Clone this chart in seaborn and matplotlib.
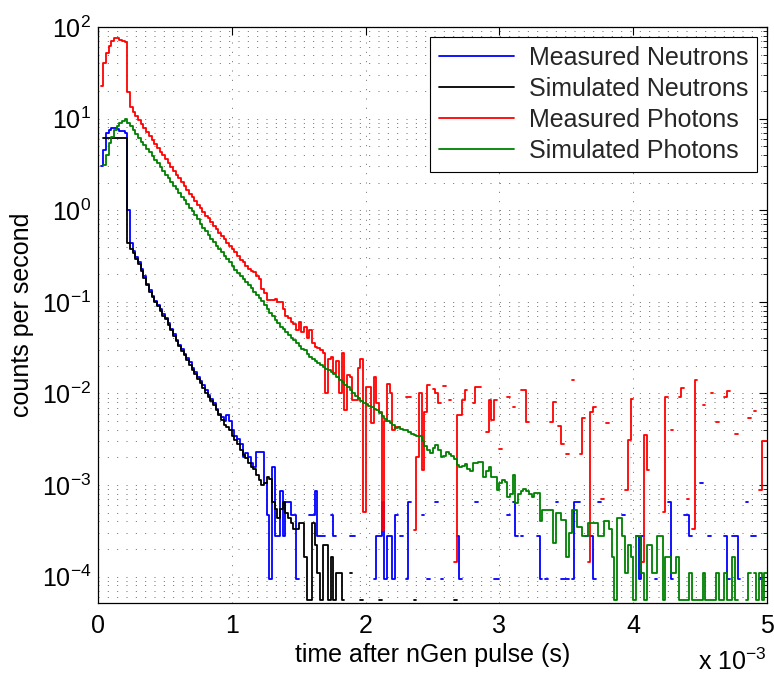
import numpy as np
import pandas as pd
import matplotlib
matplotlib.use("Agg")
import matplotlib.pyplot as plt
from matplotlib.ticker import FixedLocator, LogLocator, NullFormatter
import seaborn as sns

# ---------------- data (counts per second per 20 us time bin; 0 = empty bin) -------------
BIN_WIDTH = 20e-6  # seconds

series_names = ["Measured Neutrons", "Simulated Neutrons", "Measured Photons", "Simulated Photons"]
series_colors = ["#0000ff", "#000000", "#ff0000", "#008000"]

measured_neutrons = [
    0, 3.0, 4.5, 6.9, 7.5, 7.9, 7.8, 7.7, 7.4, 7.3,
    6.9, 1.0, 0.44, 0.355, 0.309, 0.269, 0.229, 0.191, 0.158, 0.135,
    0.117, 0.102, 0.0912, 0.0832, 0.0741, 0.0661, 0.0589, 0.0501, 0.0447, 0.0380,
    0.0339, 0.0302, 0.0269, 0.0245, 0.0219, 0.0191, 0.0170, 0.0151, 0.0135, 0.0123,
    0.0110, 0.00955, 0.00871, 0.00776, 0.00676, 0.00603, 0.00550, 0.00501, 0.00575, 0.00501,
    0.00398, 0.00347, 0.00316, 0.00282, 0.00204, 0.00224, 0.00200, 0.00174, 0.00158, 0.00229,
    0.00229, 0.00229, 0.00105, 0.00047, 0.000094, 0.00158, 0.00028, 0.00028, 0.00085, 0.00028,
    0.00066, 0.00066, 0.00047, 0.00047, 0.000094, 0, 0, 0, 0, 0.00047,
    0.00047, 0.00085, 0.00028, 0.00028, 0.00028, 0, 0, 0.00047, 0.00028, 0,
    0, 0, 0, 0, 0.00028, 0.00028, 0, 0, 0, 0,
    0, 0, 0, 0.000094, 0.00028, 0.00028, 0.00066, 0.000094, 0.00028, 0.00028,
    0.000094, 0.00047, 0, 0.00028, 0, 0.000094, 0.00066, 0, 0, 0,
    0, 0.00047, 0, 0.000094, 0, 0, 0.00066, 0, 0.000094, 0,
    0, 0, 0, 0, 0.00028, 0.000094, 0, 0, 0, 0,
    0, 0.00066, 0, 0, 0, 0, 0, 0, 0.000094, 0.000094,
    0, 0, 0, 0.00047, 0, 0.00066, 0.00028, 0, 0.00028, 0,
    0, 0, 0, 0, 0.00028, 0.000094, 0, 0.000094, 0, 0,
    0, 0.00066, 0, 0.000094, 0.000094, 0.000094, 0, 0.000094, 0.00066, 0.00066,
    0, 0, 0.00028, 0, 0.00028, 0.000094, 0, 0.00066, 0, 0,
    0, 0, 0, 0, 0, 0, 0.00047, 0, 0, 0,
    0, 0.00028, 0.000094, 0.00028, 0, 0, 0, 0, 0.000094, 0,
    0, 0, 0, 0.00066, 0.000094, 0, 0, 0, 0, 0.00047,
    0.00047, 0.00028, 0, 0, 0, 0.00105, 0, 0, 0.00028, 0,
    0, 0, 0, 0, 0.00028, 0.000094, 0, 0.00028, 0.00028, 0.000094,
    0, 0, 0.00066, 0, 0.00028, 0.00028, 0, 0.000094, 0, 0,
]

simulated_neutrons = [
    0, 0, 6.2, 6.2, 6.2, 6.2, 6.2, 6.2, 6.2, 6.2,
    6.2, 0.44, 0.380, 0.339, 0.295, 0.257, 0.219, 0.182, 0.151, 0.129,
    0.112, 0.100, 0.0891, 0.0794, 0.0708, 0.0646, 0.0562, 0.0490, 0.0427, 0.0372,
    0.0331, 0.0288, 0.0263, 0.0234, 0.0204, 0.0182, 0.0162, 0.0145, 0.0129, 0.0115,
    0.0102, 0.00912, 0.00832, 0.00741, 0.00661, 0.00575, 0.00513, 0.00457, 0.00427, 0.00398,
    0.00347, 0.00309, 0.00282, 0.00240, 0.00214, 0.00195, 0.00174, 0.00158, 0.00148, 0.00129,
    0.00112, 0.00100, 0.00105, 0.00123, 0.00117, 0.00066, 0.00055, 0.00044, 0.00055, 0.00066,
    0.000495, 0.00044, 0.000385, 0.00033, 0.00033, 0.000385, 0.000385, 0.000165, 0.000055, 0.000055,
    0.000385, 0.00022, 0.00011, 0.000055, 0.00022, 0.00022, 0.000055, 0.000165, 0.000055, 0.00011,
    0.00011, 0.000055, 0, 0, 0.00011, 0, 0, 0, 0.000055, 0,
    0, 0, 0, 0, 0, 0.000055, 0, 0, 0, 0,
    0, 0, 0, 0, 0, 0, 0, 0, 0.000055, 0,
    0, 0, 0, 0, 0, 0, 0, 0, 0, 0,
    0, 0, 0, 0.000055, 0, 0, 0, 0, 0, 0,
    0, 0, 0, 0, 0, 0, 0, 0, 0, 0,
    0, 0, 0, 0, 0, 0, 0, 0, 0, 0,
    0, 0, 0, 0, 0, 0, 0, 0, 0, 0,
    0, 0, 0, 0, 0, 0, 0, 0, 0, 0,
    0, 0, 0, 0, 0, 0, 0, 0, 0, 0,
    0, 0, 0, 0, 0, 0, 0, 0, 0, 0,
    0, 0, 0, 0, 0, 0, 0, 0, 0, 0,
    0, 0, 0, 0, 0, 0, 0, 0, 0, 0,
    0, 0, 0, 0, 0, 0, 0, 0, 0, 0,
    0, 0, 0, 0, 0, 0, 0, 0, 0, 0,
    0, 0, 0, 0, 0, 0, 0, 0, 0, 0,
]

measured_photons = [
    0, 22.9, 40, 52, 62, 71, 75, 76, 73, 71,
    68, 19.4, 13.3, 11.9, 10.7, 9.66, 8.71, 7.94, 7.16, 6.46,
    5.89, 5.31, 4.79, 4.37, 3.98, 3.59, 3.24, 2.95, 2.69, 2.45,
    2.24, 2.02, 1.82, 1.66, 1.51, 1.38, 1.26, 1.15, 1.05, 0.955,
    0.871, 0.813, 0.741, 0.676, 0.617, 0.569, 0.525, 0.479, 0.437, 0.407,
    0.380, 0.347, 0.316, 0.288, 0.269, 0.245, 0.229, 0.219, 0.209, 0.191,
    0.178, 0.138, 0.126, 0.105, 0.105, 0.105, 0.107, 0.100, 0.100, 0.0832,
    0.0708, 0.0661, 0.0603, 0.0575, 0.0490, 0.0603, 0.0468, 0.0537, 0.0398, 0.0490,
    0.0355, 0.0324, 0.0316, 0.0295, 0.0275, 0.0100, 0.0240, 0.0251, 0.0166, 0.0224,
    0.0100, 0.0275, 0.0066, 0.0158, 0.0151, 0.0085, 0.0085, 0.0191, 0.0240, 0.00051,
    0.0117, 0.0117, 0.0047, 0.0151, 0.0079, 0.0063, 0.00032, 0.0050, 0.0126, 0.0100,
    0.0040, 0.0043, 0.0043, 0, 0, 0.0091, 0.0091, 0, 0.00032, 0.0020,
    0.0100, 0.00145, 0.0063, 0.0123, 0, 0.0112, 0.0100, 0.0079, 0, 0.0120,
    0, 0.0085, 0, 0.000145, 0.0058, 0.0058, 0.0085, 0.0110, 0, 0,
    0.0079, 0.0117, 0.0117, 0, 0, 0.0038, 0.0085, 0.0051, 0.0085, 0,
    0.0025, 0, 0, 0.0091, 0, 0.0071, 0, 0, 0.0110, 0.0110,
    0.0049, 0, 0, 0, 0, 0, 0, 0, 0, 0.0049,
    0.0081, 0, 0.0044, 0.0028, 0, 0.0022, 0, 0.0141, 0, 0,
    0.0022, 0.0054, 0, 0.000145, 0.0062, 0.0071, 0, 0, 0.00071, 0,
    0.0047, 0, 0, 0, 0, 0, 0, 0.00089, 0.0031, 0.0087,
    0, 0, 0, 0.000145, 0.0035, 0.00145, 0, 0, 0, 0,
    0, 0.00051, 0.0091, 0, 0.0040, 0, 0, 0.0091, 0.0115, 0,
    0.00071, 0, 0.00033, 0.0141, 0, 0, 0.0074, 0, 0, 0.0100,
    0, 0.0049, 0, 0, 0.0091, 0.0105, 0, 0, 0.0036, 0,
    0, 0, 0, 0.0054, 0, 0.0065, 0, 0.00089, 0.0030, 0.0030,
]

simulated_photons = [
    0, 0, 3.1, 4.0, 5.4, 6.3, 7.5, 8.3, 9.0, 9.5,
    9.9, 9.02, 8.22, 7.50, 6.84, 6.17, 5.62, 5.13, 4.68, 4.27,
    3.89, 3.55, 3.24, 2.95, 2.69, 2.45, 2.24, 2.04, 1.86, 1.70,
    1.55, 1.41, 1.29, 1.17, 1.07, 0.977, 0.891, 0.794, 0.708, 0.646,
    0.589, 0.537, 0.490, 0.447, 0.407, 0.380, 0.347, 0.316, 0.295, 0.269,
    0.245, 0.224, 0.204, 0.191, 0.178, 0.166, 0.151, 0.141, 0.129, 0.120,
    0.110, 0.102, 0.0912, 0.0832, 0.0759, 0.0692, 0.0631, 0.0589, 0.0537, 0.0501,
    0.0468, 0.0437, 0.0407, 0.0380, 0.0355, 0.0331, 0.0309, 0.0295, 0.0269, 0.0251,
    0.0240, 0.0224, 0.0214, 0.0204, 0.0195, 0.0186, 0.0178, 0.0170, 0.0162, 0.0151,
    0.0141, 0.0132, 0.0123, 0.0117, 0.0110, 0.0102, 0.00933, 0.00891, 0.00832, 0.00776,
    0.00759, 0.00724, 0.00708, 0.00676, 0.00661, 0.00617, 0.00562, 0.00525, 0.00501, 0.00479,
    0.00447, 0.00417, 0.00427, 0.00407, 0.00398, 0.00398, 0.00380, 0.00363, 0.00355, 0.00347,
    0.00339, 0.00302, 0.00269, 0.00240, 0.00224, 0.00251, 0.00275, 0.00240, 0.00204, 0.00209,
    0.00229, 0.00219, 0.00209, 0.00191, 0.00166, 0.00158, 0.00162, 0.00170, 0.00151, 0.00141,
    0.00174, 0.00174, 0.00178, 0.00178, 0.00123, 0.00141, 0.00158, 0.00123, 0.00123, 0.00089,
    0.00105, 0.00112, 0.00107, 0.00074, 0.00079, 0.00129, 0.00063, 0.00079, 0.00087, 0.00091,
    0.00087, 0.00079, 0.00074, 0.00081, 0.00081, 0.00040, 0.00054, 0.00054, 0.00054, 0.00054,
    0.00023, 0.00049, 0.00049, 0.00042, 0.00042, 0.000165, 0.00030, 0.00054, 0.00054, 0.00035,
    0.00035, 0.000275, 0.000275, 0.00038, 0.00038, 0.00038, 0.00038, 0.000275, 0.000275, 0.00040,
    0.00040, 0.00033, 0.000165, 0.000055, 0.00044, 0.00044, 0.000275, 0.00011, 0.00022, 0.000165,
    0.000055, 0.000275, 0.000275, 0.00011, 0.000055, 0.00022, 0.00022, 0.00011, 0.00011, 0.000275,
    0.000275, 0.000055, 0.000165, 0.000165, 0.00011, 0.00011, 0.000165, 0.000055, 0.000055, 0.000055,
    0.000055, 0.00011, 0.000055, 0.000055, 0.000055, 0.000055, 0.00011, 0.000055, 0.000055, 0.000055,
    0.000055, 0.00011, 0.000055, 0.000055, 0.00011, 0.000055, 0.000055, 0.000165, 0.000055, 0,
    0, 0, 0.000055, 0.00011, 0, 0.00011, 0.000055, 0.00011, 0.000055, 0.00011,
]

xtick_values = [0, 1e-3, 2e-3, 3e-3, 4e-3, 5e-3]
xtick_labels = ["0", "1", "2", "3", "4", "5"]
ytick_values = [1e-4, 1e-3, 1e-2, 1e-1, 1e0, 1e1, 1e2]
ytick_labels = [r"$\mathregular{10^{-4}}$", r"$\mathregular{10^{-3}}$", r"$\mathregular{10^{-2}}$",
                r"$\mathregular{10^{-1}}$", r"$\mathregular{10^{0}}$", r"$\mathregular{10^{1}}$",
                r"$\mathregular{10^{2}}$"]

# ---------------- long-form table of stair runs (gaps where a bin is empty) -------------
def stair_rows(name, values):
    rows = []
    seg = 0
    run = []
    for i, v in enumerate(list(values) + [0]):
        if v > 0:
            run.append(i)
        elif run:
            for j in run:
                rows.append((name, f"{name}#{seg}", j * BIN_WIDTH, values[j]))
            last = run[-1]
            rows.append((name, f"{name}#{seg}", (last + 1) * BIN_WIDTH, values[last]))
            seg += 1
            run = []
    return rows

all_rows = []
for nm, vals in zip(series_names, [measured_neutrons, simulated_neutrons,
                                   measured_photons, simulated_photons]):
    all_rows += stair_rows(nm, vals)
df = pd.DataFrame(all_rows, columns=["series", "seg", "time", "rate"])

# ---------------- style -------------
sns.set_theme(style="white")
plt.rcParams["font.family"] = ["Liberation Sans", "DejaVu Sans"]
plt.rcParams["mathtext.fontset"] = "custom"
plt.rcParams["mathtext.rm"] = "Liberation Sans"
plt.rcParams["mathtext.it"] = "Liberation Sans:italic"
plt.rcParams["mathtext.bf"] = "Liberation Sans:bold"
plt.rcParams["axes.unicode_minus"] = True

FS = 18
fig = plt.figure(figsize=(7.74, 6.79), dpi=100)
ax = fig.add_axes([98 / 774, 1 - 603 / 679, (767 - 98) / 774, (603 - 27) / 679])
ax.set_yscale("log")

sns.lineplot(data=df, x="time", y="rate", hue="series", units="seg", estimator=None,
             sort=False, hue_order=series_names, palette=series_colors,
             drawstyle="steps-post", linewidth=1.3, ax=ax)

ax.set_xlim(0, 5e-3)
ax.set_ylim(5.15e-5, 100)

ax.xaxis.set_major_locator(FixedLocator(xtick_values))
ax.set_xticklabels(xtick_labels)
ax.yaxis.set_major_locator(FixedLocator(ytick_values))
ax.set_yticklabels(ytick_labels)
ax.yaxis.set_minor_locator(LogLocator(base=10, subs=np.arange(2, 10), numticks=20))
ax.yaxis.set_minor_formatter(NullFormatter())

ax.tick_params(which="both", direction="in", top=True, right=True, colors="black",
               labelsize=FS)
ax.tick_params(which="major", length=6, width=0.8)
ax.tick_params(which="minor", length=3, width=0.6)
ax.tick_params(axis="x", which="major", pad=8)
ax.tick_params(axis="y", which="major", pad=5)

grid_style = dict(linestyle=(0, (1.2, 10)), color="#555555", linewidth=0.6)
ax.grid(True, which="major", axis="both", **grid_style)
ax.grid(True, which="minor", axis="y", **grid_style)
ax.set_axisbelow(True)

for sp in ax.spines.values():
    sp.set_color("black")
    sp.set_linewidth(0.9)

ax.set_xlabel("time after nGen pulse (s)", fontsize=FS, color="black")
ax.set_ylabel("counts per second", fontsize=FS, color="black")
ax.xaxis.set_label_coords(0.5, -0.07)
ax.yaxis.set_label_coords(-0.095, 0.5)

fig.text(767 / 774, 1 - 670 / 679, r"x $\mathregular{10^{-3}}$", ha="right", va="baseline",
         fontsize=FS, color="black")

handles, labels = ax.get_legend_handles_labels()
leg = ax.legend(handles, labels, loc="upper right", fontsize=FS, frameon=True,
                fancybox=False, shadow=False, framealpha=1, edgecolor="black",
                borderpad=0.35, handlelength=3.0, handletextpad=0.6, labelspacing=0.28,
                borderaxespad=0.4)
leg.get_frame().set_linewidth(0.8)
for line in leg.get_lines():
    line.set_linewidth(1.3)

fig.savefig("out.png", dpi=100)
